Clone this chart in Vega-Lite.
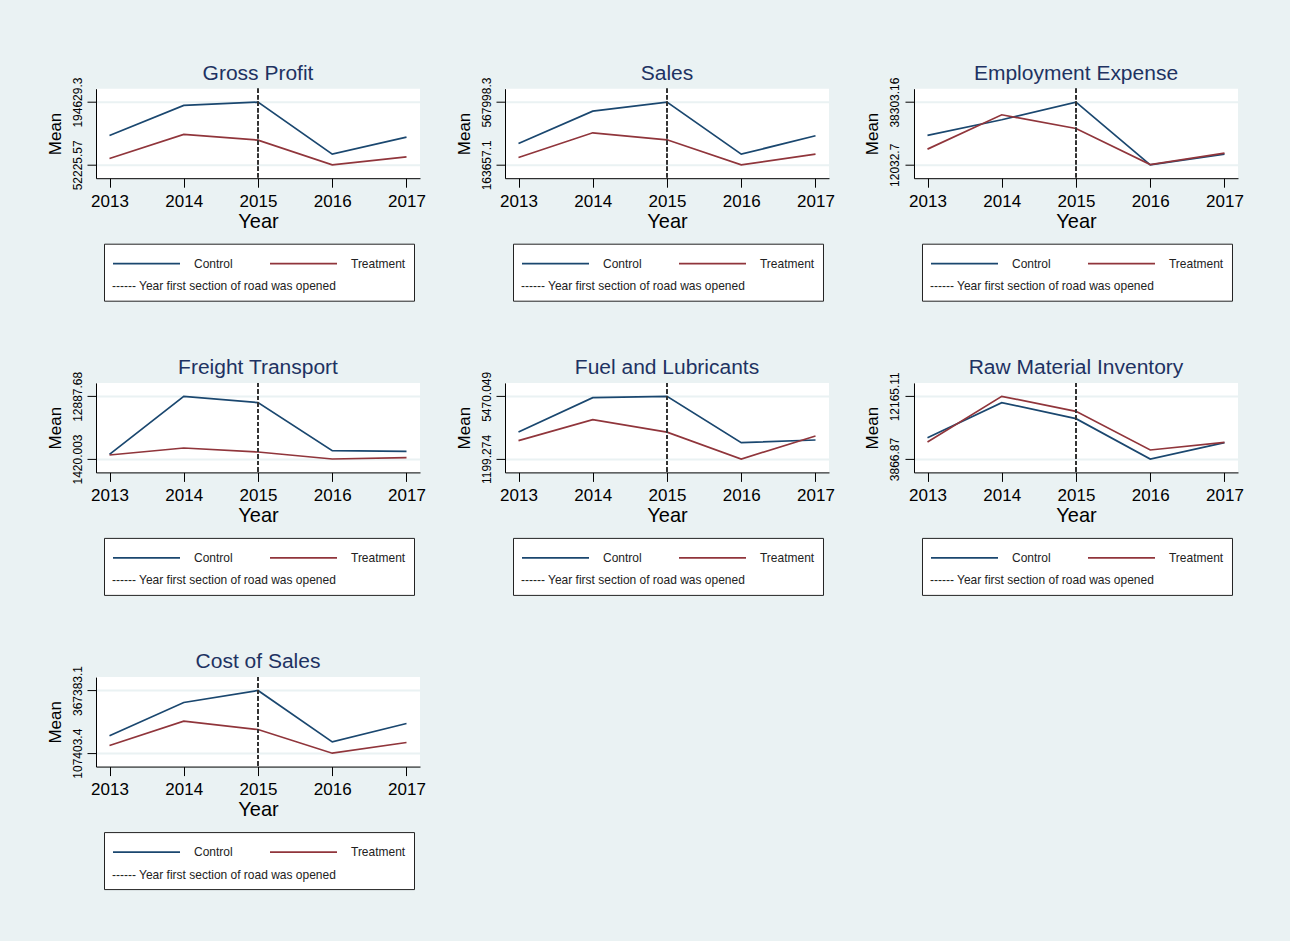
{
  "$schema": "https://vega.github.io/schema/vega-lite/v6.json",
  "background": "#EAF2F3",
  "padding": {"left": 46, "top": 61.7, "right": 50, "bottom": 56},
  "data": {"values": [
    {"panel": "Gross Profit", "group": "Control", "year": 2013, "value": 118878},
    {"panel": "Gross Profit", "group": "Control", "year": 2014, "value": 187067},
    {"panel": "Gross Profit", "group": "Control", "year": 2015, "value": 194629.3},
    {"panel": "Gross Profit", "group": "Control", "year": 2016, "value": 76465},
    {"panel": "Gross Profit", "group": "Control", "year": 2017, "value": 115097},
    {"panel": "Gross Profit", "group": "Treatment", "year": 2013, "value": 66618},
    {"panel": "Gross Profit", "group": "Treatment", "year": 2014, "value": 121155},
    {"panel": "Gross Profit", "group": "Treatment", "year": 2015, "value": 108279},
    {"panel": "Gross Profit", "group": "Treatment", "year": 2016, "value": 52225.57},
    {"panel": "Gross Profit", "group": "Treatment", "year": 2017, "value": 70405},
    {"panel": "Sales", "group": "Control", "year": 2013, "value": 301305},
    {"panel": "Sales", "group": "Control", "year": 2014, "value": 509928},
    {"panel": "Sales", "group": "Control", "year": 2015, "value": 567998.3},
    {"panel": "Sales", "group": "Control", "year": 2016, "value": 232481},
    {"panel": "Sales", "group": "Control", "year": 2017, "value": 350772},
    {"panel": "Sales", "group": "Treatment", "year": 2013, "value": 210974},
    {"panel": "Sales", "group": "Treatment", "year": 2014, "value": 370129},
    {"panel": "Sales", "group": "Treatment", "year": 2015, "value": 324963},
    {"panel": "Sales", "group": "Treatment", "year": 2016, "value": 163657.1},
    {"panel": "Sales", "group": "Treatment", "year": 2017, "value": 232481},
    {"panel": "Employment Expense", "group": "Control", "year": 2013, "value": 24329},
    {"panel": "Employment Expense", "group": "Control", "year": 2014, "value": 30897},
    {"panel": "Employment Expense", "group": "Control", "year": 2015, "value": 38303.16},
    {"panel": "Employment Expense", "group": "Control", "year": 2016, "value": 12032.7},
    {"panel": "Employment Expense", "group": "Control", "year": 2017, "value": 16505},
    {"panel": "Employment Expense", "group": "Treatment", "year": 2013, "value": 18600},
    {"panel": "Employment Expense", "group": "Treatment", "year": 2014, "value": 32994},
    {"panel": "Employment Expense", "group": "Treatment", "year": 2015, "value": 27264},
    {"panel": "Employment Expense", "group": "Treatment", "year": 2016, "value": 12100},
    {"panel": "Employment Expense", "group": "Treatment", "year": 2017, "value": 16924},
    {"panel": "Freight Transport", "group": "Control", "year": 2013, "value": 2274},
    {"panel": "Freight Transport", "group": "Control", "year": 2014, "value": 12887.68},
    {"panel": "Freight Transport", "group": "Control", "year": 2015, "value": 11729},
    {"panel": "Freight Transport", "group": "Control", "year": 2016, "value": 2945},
    {"panel": "Freight Transport", "group": "Control", "year": 2017, "value": 2823},
    {"panel": "Freight Transport", "group": "Treatment", "year": 2013, "value": 2152},
    {"panel": "Freight Transport", "group": "Treatment", "year": 2014, "value": 3433},
    {"panel": "Freight Transport", "group": "Treatment", "year": 2015, "value": 2701},
    {"panel": "Freight Transport", "group": "Treatment", "year": 2016, "value": 1420.003},
    {"panel": "Freight Transport", "group": "Treatment", "year": 2017, "value": 1664},
    {"panel": "Fuel and Lubricants", "group": "Control", "year": 2013, "value": 3039},
    {"panel": "Fuel and Lubricants", "group": "Control", "year": 2014, "value": 5379},
    {"panel": "Fuel and Lubricants", "group": "Control", "year": 2015, "value": 5470.049},
    {"panel": "Fuel and Lubricants", "group": "Control", "year": 2016, "value": 2312},
    {"panel": "Fuel and Lubricants", "group": "Control", "year": 2017, "value": 2494},
    {"panel": "Fuel and Lubricants", "group": "Treatment", "year": 2013, "value": 2449},
    {"panel": "Fuel and Lubricants", "group": "Treatment", "year": 2014, "value": 3880},
    {"panel": "Fuel and Lubricants", "group": "Treatment", "year": 2015, "value": 3030},
    {"panel": "Fuel and Lubricants", "group": "Treatment", "year": 2016, "value": 1199.274},
    {"panel": "Fuel and Lubricants", "group": "Treatment", "year": 2017, "value": 2767},
    {"panel": "Raw Material Inventory", "group": "Control", "year": 2013, "value": 6692},
    {"panel": "Raw Material Inventory", "group": "Control", "year": 2014, "value": 11327},
    {"panel": "Raw Material Inventory", "group": "Control", "year": 2015, "value": 9208},
    {"panel": "Raw Material Inventory", "group": "Control", "year": 2016, "value": 3866.87},
    {"panel": "Raw Material Inventory", "group": "Control", "year": 2017, "value": 6030},
    {"panel": "Raw Material Inventory", "group": "Treatment", "year": 2013, "value": 6118},
    {"panel": "Raw Material Inventory", "group": "Treatment", "year": 2014, "value": 12165.11},
    {"panel": "Raw Material Inventory", "group": "Treatment", "year": 2015, "value": 10179},
    {"panel": "Raw Material Inventory", "group": "Treatment", "year": 2016, "value": 5059},
    {"panel": "Raw Material Inventory", "group": "Treatment", "year": 2017, "value": 6074},
    {"panel": "Cost of Sales", "group": "Control", "year": 2013, "value": 179313},
    {"panel": "Cost of Sales", "group": "Control", "year": 2014, "value": 317599},
    {"panel": "Cost of Sales", "group": "Control", "year": 2015, "value": 367383.1},
    {"panel": "Cost of Sales", "group": "Control", "year": 2016, "value": 154420},
    {"panel": "Cost of Sales", "group": "Control", "year": 2017, "value": 230478},
    {"panel": "Cost of Sales", "group": "Treatment", "year": 2013, "value": 139208},
    {"panel": "Cost of Sales", "group": "Treatment", "year": 2014, "value": 240158},
    {"panel": "Cost of Sales", "group": "Treatment", "year": 2015, "value": 205586},
    {"panel": "Cost of Sales", "group": "Treatment", "year": 2016, "value": 107403.4},
    {"panel": "Cost of Sales", "group": "Treatment", "year": 2017, "value": 151654}
  ]},
  "columns": 3,
  "bounds": "flush",
  "align": "all",
  "spacing": {"row": 204.2, "column": 85},
  "resolve": {"scale": {"x": "independent", "y": "independent", "color": "independent"}, "legend": {"color": "independent"}, "axis": {"x": "independent", "y": "independent"}},
  "concat": [
    {"title": "Gross Profit", "width": 324, "height": 89.5,
     "transform": [{"filter": "datum.panel == 'Gross Profit'"}],
     "layer": [
      {"mark": {"type": "line", "strokeWidth": 1.7},
       "encoding": {
        "x": {"field": "year", "type": "quantitative", "scale": {"domain": [2013, 2017], "padding": 13.5, "nice": false, "zero": false}, "axis": {"values": [2013, 2014, 2015, 2016, 2017], "format": "d", "title": "Year"}},
        "y": {"field": "value", "type": "quantitative", "scale": {"zero": false, "nice": false, "padding": 13.4}, "axis": {"values": [52225.57, 194629.3], "format": ".7~g", "title": "Mean"}},
        "color": {"field": "group", "type": "nominal", "scale": {"domain": ["Control", "Treatment"], "range": ["#1A476F", "#90353B"]}, "legend": {"title": "------ Year first section of road was opened", "orient": "none", "legendX": 8, "legendY": 155}}}},
      {"mark": {"type": "rule", "strokeDash": [4, 2.5], "color": "#333", "strokeWidth": 1.1}, "encoding": {"x": {"datum": 2015}}}
     ]},
    {"title": "Sales", "width": 324, "height": 89.5,
     "transform": [{"filter": "datum.panel == 'Sales'"}],
     "layer": [
      {"mark": {"type": "line", "strokeWidth": 1.7},
       "encoding": {
        "x": {"field": "year", "type": "quantitative", "scale": {"domain": [2013, 2017], "padding": 13.5, "nice": false, "zero": false}, "axis": {"values": [2013, 2014, 2015, 2016, 2017], "format": "d", "title": "Year"}},
        "y": {"field": "value", "type": "quantitative", "scale": {"zero": false, "nice": false, "padding": 13.4}, "axis": {"values": [163657.1, 567998.3], "format": ".7~g", "title": "Mean"}},
        "color": {"field": "group", "type": "nominal", "scale": {"domain": ["Control", "Treatment"], "range": ["#1A476F", "#90353B"]}, "legend": {"title": "------ Year first section of road was opened", "orient": "none", "legendX": 8, "legendY": 155}}}},
      {"mark": {"type": "rule", "strokeDash": [4, 2.5], "color": "#333", "strokeWidth": 1.1}, "encoding": {"x": {"datum": 2015}}}
     ]},
    {"title": "Employment Expense", "width": 324, "height": 89.5,
     "transform": [{"filter": "datum.panel == 'Employment Expense'"}],
     "layer": [
      {"mark": {"type": "line", "strokeWidth": 1.7},
       "encoding": {
        "x": {"field": "year", "type": "quantitative", "scale": {"domain": [2013, 2017], "padding": 13.5, "nice": false, "zero": false}, "axis": {"values": [2013, 2014, 2015, 2016, 2017], "format": "d", "title": "Year"}},
        "y": {"field": "value", "type": "quantitative", "scale": {"zero": false, "nice": false, "padding": 13.4}, "axis": {"values": [12032.7, 38303.16], "format": ".7~g", "title": "Mean"}},
        "color": {"field": "group", "type": "nominal", "scale": {"domain": ["Control", "Treatment"], "range": ["#1A476F", "#90353B"]}, "legend": {"title": "------ Year first section of road was opened", "orient": "none", "legendX": 8, "legendY": 155}}}},
      {"mark": {"type": "rule", "strokeDash": [4, 2.5], "color": "#333", "strokeWidth": 1.1}, "encoding": {"x": {"datum": 2015}}}
     ]},
    {"title": "Freight Transport", "width": 324, "height": 89.5,
     "transform": [{"filter": "datum.panel == 'Freight Transport'"}],
     "layer": [
      {"mark": {"type": "line", "strokeWidth": 1.7},
       "encoding": {
        "x": {"field": "year", "type": "quantitative", "scale": {"domain": [2013, 2017], "padding": 13.5, "nice": false, "zero": false}, "axis": {"values": [2013, 2014, 2015, 2016, 2017], "format": "d", "title": "Year"}},
        "y": {"field": "value", "type": "quantitative", "scale": {"zero": false, "nice": false, "padding": 13.4}, "axis": {"values": [1420.003, 12887.68], "format": ".7~g", "title": "Mean"}},
        "color": {"field": "group", "type": "nominal", "scale": {"domain": ["Control", "Treatment"], "range": ["#1A476F", "#90353B"]}, "legend": {"title": "------ Year first section of road was opened", "orient": "none", "legendX": 8, "legendY": 155}}}},
      {"mark": {"type": "rule", "strokeDash": [4, 2.5], "color": "#333", "strokeWidth": 1.1}, "encoding": {"x": {"datum": 2015}}}
     ]},
    {"title": "Fuel and Lubricants", "width": 324, "height": 89.5,
     "transform": [{"filter": "datum.panel == 'Fuel and Lubricants'"}],
     "layer": [
      {"mark": {"type": "line", "strokeWidth": 1.7},
       "encoding": {
        "x": {"field": "year", "type": "quantitative", "scale": {"domain": [2013, 2017], "padding": 13.5, "nice": false, "zero": false}, "axis": {"values": [2013, 2014, 2015, 2016, 2017], "format": "d", "title": "Year"}},
        "y": {"field": "value", "type": "quantitative", "scale": {"zero": false, "nice": false, "padding": 13.4}, "axis": {"values": [1199.274, 5470.049], "format": ".7~g", "title": "Mean"}},
        "color": {"field": "group", "type": "nominal", "scale": {"domain": ["Control", "Treatment"], "range": ["#1A476F", "#90353B"]}, "legend": {"title": "------ Year first section of road was opened", "orient": "none", "legendX": 8, "legendY": 155}}}},
      {"mark": {"type": "rule", "strokeDash": [4, 2.5], "color": "#333", "strokeWidth": 1.1}, "encoding": {"x": {"datum": 2015}}}
     ]},
    {"title": "Raw Material Inventory", "width": 324, "height": 89.5,
     "transform": [{"filter": "datum.panel == 'Raw Material Inventory'"}],
     "layer": [
      {"mark": {"type": "line", "strokeWidth": 1.7},
       "encoding": {
        "x": {"field": "year", "type": "quantitative", "scale": {"domain": [2013, 2017], "padding": 13.5, "nice": false, "zero": false}, "axis": {"values": [2013, 2014, 2015, 2016, 2017], "format": "d", "title": "Year"}},
        "y": {"field": "value", "type": "quantitative", "scale": {"zero": false, "nice": false, "padding": 13.4}, "axis": {"values": [3866.87, 12165.11], "format": ".7~g", "title": "Mean"}},
        "color": {"field": "group", "type": "nominal", "scale": {"domain": ["Control", "Treatment"], "range": ["#1A476F", "#90353B"]}, "legend": {"title": "------ Year first section of road was opened", "orient": "none", "legendX": 8, "legendY": 155}}}},
      {"mark": {"type": "rule", "strokeDash": [4, 2.5], "color": "#333", "strokeWidth": 1.1}, "encoding": {"x": {"datum": 2015}}}
     ]},
    {"title": "Cost of Sales", "width": 324, "height": 89.5,
     "transform": [{"filter": "datum.panel == 'Cost of Sales'"}],
     "layer": [
      {"mark": {"type": "line", "strokeWidth": 1.7},
       "encoding": {
        "x": {"field": "year", "type": "quantitative", "scale": {"domain": [2013, 2017], "padding": 13.5, "nice": false, "zero": false}, "axis": {"values": [2013, 2014, 2015, 2016, 2017], "format": "d", "title": "Year"}},
        "y": {"field": "value", "type": "quantitative", "scale": {"zero": false, "nice": false, "padding": 13.4}, "axis": {"values": [107403.4, 367383.1], "format": ".7~g", "title": "Mean"}},
        "color": {"field": "group", "type": "nominal", "scale": {"domain": ["Control", "Treatment"], "range": ["#1A476F", "#90353B"]}, "legend": {"title": "------ Year first section of road was opened", "orient": "none", "legendX": 8, "legendY": 155}}}},
      {"mark": {"type": "rule", "strokeDash": [4, 2.5], "color": "#333", "strokeWidth": 1.1}, "encoding": {"x": {"datum": 2015}}}
     ]}
  ],
  "config": {
    "font": "Liberation Sans",
    "view": {"fill": "white", "stroke": null},
    "title": {"font": "Liberation Sans", "fontSize": 21, "fontWeight": "normal", "color": "#1E3262", "anchor": "middle", "baseline": "alphabetic", "offset": -6.5},
    "axis": {"labelFont": "Liberation Sans", "titleFont": "Liberation Sans", "labelColor": "#000", "titleColor": "#000", "titleFontWeight": "normal", "domainColor": "#000", "tickColor": "#000", "tickSize": 9, "domainWidth": 1, "tickWidth": 1},
    "axisX": {"labelFontSize": 17, "titleFontSize": 20, "labelPadding": 6, "titlePadding": 2, "grid": false, "labelFlush": false, "labelOverlap": false},
    "axisY": {"labelFontSize": 12, "titleFontSize": 17, "labelAngle": -90, "labelAlign": "center", "labelBaseline": "alphabetic", "labelPadding": 6, "titlePadding": 7, "grid": true, "gridColor": "#EAF2F3", "gridWidth": 2, "labelOverlap": false, "labelFlush": false},
    "legend": {"direction": "horizontal", "columns": 2, "gridAlign": "each", "columnPadding": 36, "symbolType": "stroke", "symbolSize": 4489, "symbolStrokeWidth": 1.7, "clipHeight": 23.4, "labelOffset": 13, "labelFont": "Liberation Sans", "labelFontSize": 12, "labelColor": "#222", "titleFont": "Liberation Sans", "titleFontSize": 12, "titleFontWeight": "normal", "titleColor": "#222", "titleOrient": "bottom", "titleAnchor": "start", "titlePadding": 5.5, "titleLimit": 400, "padding": 8, "strokeColor": "#222", "fillColor": "white"}
  }
}
